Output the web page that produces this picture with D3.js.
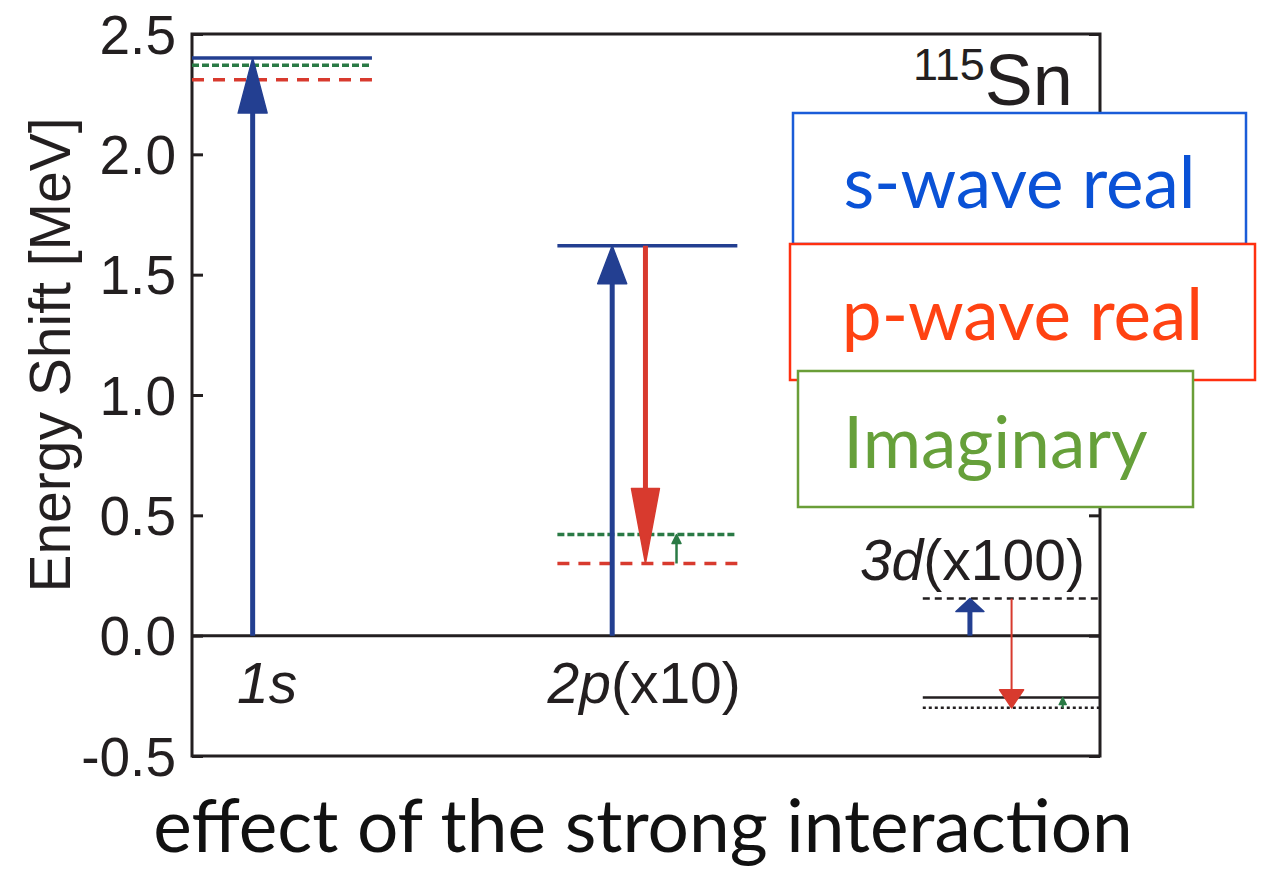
<!DOCTYPE html>
<html>
<head>
<meta charset="utf-8">
<script src="https://cdn.jsdelivr.net/npm/d3@7"></script>
<style>
  body { margin: 0; background: #fff; }
  text { font-family: "Liberation Sans", Arial, sans-serif; fill: #231f20; }
  .gill { font-family: Lato, "Open Sans", sans-serif; }
</style>
</head>
<body>
<script>
// energy shifts as plotted (MeV; 2p shown x10, 3d shown x100)
var states = ["1s", "2p", "3d"],
    stateSuffix = ["", "(x10)", "(x100)"],
    sWave = [2.40, 1.62, 0.154],     // s-wave real part only
    pWave = [2.31, 0.30, -0.30],     // plus p-wave real part
    total = [2.37, 0.42, -0.257];    // plus imaginary part
var showArrows = [[true, false, false], [true, true, true], [true, true, true]];
var yTicks = [-0.5, 0.0, 0.5, 1.0, 1.5, 2.0, 2.5];
var legendLabels = ["s-wave real", "p-wave real", "Imaginary"];

var W = 1261, H = 872;
var frame = {left: 192, top: 34, right: 1100, bottom: 756};

var blue = "#233f91", red = "#d83a2e", green = "#2a7a45";

// arrow look per state: x offset in column, head length, head width, shaft width
var arrowStyle = [
  [{dx: 0.166, hl: 55, hw: 29, sw: 5}],
  [{dx: 0.150, hl: 38, hw: 29, sw: 5}, {dx: 0.241, hl: 75, hw: 28, sw: 5}, {dx: 0.326, hl: 9, hw: 9, sw: 2.5}],
  [{dx: 0.129, hl: 13, hw: 28, sw: 5}, {dx: 0.243, hl: 18, hw: 24, sw: 2}, {dx: 0.383, hl: 7, hw: 7, sw: 2}]
];

var x = d3.scaleLinear().domain([0, 2.485]).range([frame.left, frame.right]);
var y = d3.scaleLinear().domain([-0.5, 2.5]).range([frame.bottom, frame.top]);

var svg = d3.select("body").append("svg")
    .attr("width", W)
    .attr("height", H);

// frame
svg.append("rect")
    .attr("x", frame.left).attr("y", frame.top)
    .attr("width", frame.right - frame.left).attr("height", frame.bottom - frame.top)
    .attr("fill", "none").attr("stroke", "#231f20").attr("stroke-width", 3);

// inward ticks on both sides
svg.append("g")
    .attr("transform", "translate(" + frame.left + ",0)")
    .call(d3.axisRight(y).tickValues(yTicks).tickSize(11).tickFormat(""))
    .call(function(g) { g.select(".domain").remove(); })
    .selectAll("line").attr("stroke", "#231f20").attr("stroke-width", 3);

svg.append("g")
    .attr("transform", "translate(" + frame.right + ",0)")
    .call(d3.axisLeft(y).tickValues(yTicks).tickSize(11).tickFormat(""))
    .call(function(g) { g.select(".domain").remove(); })
    .selectAll("line").attr("stroke", "#231f20").attr("stroke-width", 3);

svg.selectAll(".ytick")
    .data(yTicks)
    .enter().append("text")
    .attr("class", "ytick")
    .attr("x", 176)
    .attr("y", function(d) { return y(d); })
    .attr("dy", "0.36em")
    .attr("text-anchor", "end")
    .style("font-size", "55px")
    .text(function(d) { return d.toFixed(1); });

svg.append("text")
    .attr("transform", "translate(70," + 355 + ") rotate(-90)")
    .attr("text-anchor", "middle")
    .style("font-size", "57px")
    .text("Energy Shift [MeV]");

// zero line
svg.append("line")
    .attr("x1", frame.left).attr("x2", frame.right)
    .attr("y1", y(0)).attr("y2", y(0))
    .attr("stroke", "#231f20").attr("stroke-width", 3);

// energy levels
var levels = [];
states.forEach(function(s, i) {
  var dark = i === 2;
  levels.push({i: i, v: sWave[i], color: dark ? "#231f20" : blue, dash: dark ? "7,5" : null, w: dark ? 2.5 : 3.5});
  levels.push({i: i, v: total[i], color: dark ? "#231f20" : green, dash: dark ? null : "7,3", w: dark ? 2.5 : 3.5});
  levels.push({i: i, v: pWave[i], color: dark ? "#231f20" : red, dash: dark ? "3,3" : "12,9", w: dark ? 2.5 : 3.5});
});

svg.selectAll(".level")
    .data(levels)
    .enter().append("line")
    .attr("class", "level")
    .attr("x1", function(d) { return x(d.i); })
    .attr("x2", function(d) { return Math.min(x(d.i + 0.4925), frame.right - 1); })
    .attr("y1", function(d) { return y(d.v); })
    .attr("y2", function(d) { return y(d.v); })
    .attr("stroke", function(d) { return d.color; })
    .attr("stroke-width", function(d) { return d.w; })
    .attr("stroke-dasharray", function(d) { return d.dash; });

// arrows: s-wave from 0, p-wave from s level, imaginary from p level
var arrows = [];
states.forEach(function(s, i) {
  var steps = [[0, sWave[i], blue], [sWave[i], pWave[i], red], [pWave[i], total[i], green]];
  steps.forEach(function(st, k) {
    if (showArrows[i][k]) arrows.push({i: i, from: st[0], to: st[1], color: st[2], st: arrowStyle[i][k]});
  });
});

var ag = svg.selectAll(".arrow")
    .data(arrows)
    .enter().append("g")
    .attr("class", "arrow");

ag.append("line")
    .attr("x1", function(d) { return x(d.i + d.st.dx); })
    .attr("x2", function(d) { return x(d.i + d.st.dx); })
    .attr("y1", function(d) { return y(d.from); })
    .attr("y2", function(d) {
      var dir = d.to > d.from ? 1 : -1;
      return y(d.to) + dir * (d.st.hl - 2);
    })
    .attr("stroke", function(d) { return d.color; })
    .attr("stroke-width", function(d) { return d.st.sw; });

ag.append("path")
    .attr("d", function(d) {
      var dir = d.to > d.from ? 1 : -1,
          cx = x(d.i + d.st.dx), ty = y(d.to), by = ty + dir * d.st.hl;
      return "M" + cx + "," + ty + "L" + (cx - d.st.hw / 2) + "," + by +
             "L" + (cx + d.st.hw / 2) + "," + by + "Z";
    })
    .attr("fill", function(d) { return d.color; })
    .attr("stroke", function(d) { return d.color; })
    .attr("stroke-linejoin", "round")
    .attr("stroke-width", 1.5);

// state labels
var labelPos = [{dx: 0.123, v: -0.28}, {dx: -0.027, v: -0.28}, {dx: -0.172, v: 0.233}];
states.forEach(function(s, i) {
  var t = svg.append("text")
      .attr("x", x(i + labelPos[i].dx))
      .attr("y", y(labelPos[i].v))
      .style("font-size", "57px");
  t.append("tspan").style("font-style", "italic").text(s);
  if (stateSuffix[i]) t.append("tspan").text(stateSuffix[i]);
});

// nucleus label
var nuc = svg.append("text").attr("x", 913).attr("y", 105);
nuc.append("tspan").attr("dy", -25).style("font-size", "45px").text("115");
nuc.append("tspan").attr("dy", 25).style("font-size", "72px").text("Sn");

// legend boxes
var legendColors = ["#1a5cd8", "#ff3010", "#6a9e38"],
    legendText = ["#0a52d6", "#ff4212", "#66a03a"];
var boxes = [[793, 113, 1246, 244], [790, 244, 1255, 380], [798, 371, 1193, 507]],
    baselines = [208, 340, 468];

legendLabels.forEach(function(l, i) {
  var b = boxes[i];
  svg.append("rect")
      .attr("x", b[0]).attr("y", b[1])
      .attr("width", b[2] - b[0]).attr("height", b[3] - b[1])
      .attr("fill", "#fff")
      .attr("stroke", legendColors[i])
      .attr("stroke-width", 2.5);
  svg.append("text")
      .attr("class", "gill")
      .attr("x", (b[0] + b[2]) / 2)
      .attr("y", baselines[i])
      .attr("text-anchor", "middle")
      .style("font-size", "71px")
      .style("fill", legendText[i])
      .text(l);
});

svg.append("text")
    .attr("class", "gill")
    .attr("x", 643)
    .attr("y", 852)
    .attr("text-anchor", "middle")
    .style("font-size", "73px")
    .style("fill", "#111")
    .text("effect of the strong interaction");
</script>
</body>
</html>
